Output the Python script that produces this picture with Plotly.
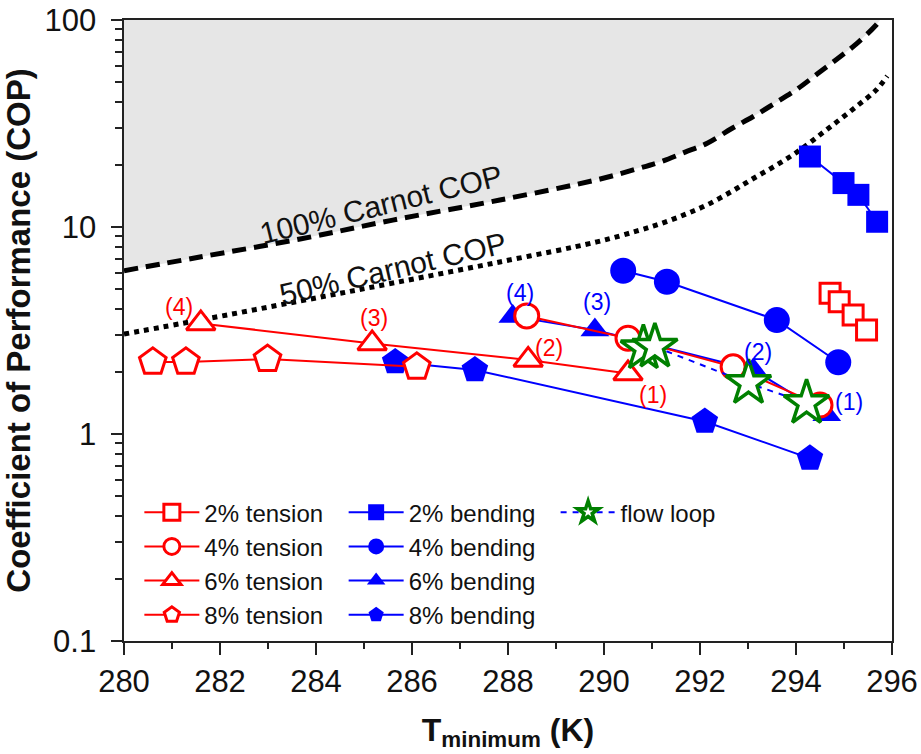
import math
import plotly.graph_objects as go

# ---------------- data ----------------
carnot100_T = [280.0, 281.58, 283.67, 285.6, 287.83, 289.85, 290.69, 291.19, 291.69, 292.15,
               292.67, 293.1, 293.56, 294.02, 294.44, 294.85, 295.27, 295.67, 295.75]
carnot100_cop = [6.15, 7.16, 8.75, 10.8, 13.5, 16.9, 19.1, 20.7, 23.0, 25.4,
                 30.0, 34.1, 39.6, 46.3, 54.8, 64.6, 77.1, 94.6, 100.0]

carnot50_T = [280.0, 281.58, 283.67, 285.6, 287.83, 289.85, 290.69, 291.19, 291.69, 292.15,
              292.67, 293.1, 293.56, 294.02, 294.44, 294.85, 295.27, 295.67, 295.9]
carnot50_cop = [3.04, 3.55, 4.39, 5.36, 6.78, 8.47, 9.57, 10.4, 11.5, 12.8,
                14.9, 17.1, 19.7, 23.0, 27.2, 32.2, 38.4, 45.9, 53.6]

t2_T = [294.71, 294.90, 295.19, 295.47]
t2_cop = [4.78, 4.36, 3.76, 3.18]
t4_T = [288.39, 290.5, 292.69, 294.5]
t4_cop = [3.72, 2.90, 2.11, 1.38]
t6_T = [281.6, 285.17, 288.42, 290.5]
t6_cop = [3.42, 2.74, 2.28, 1.96]
t8_T = [280.6, 281.29, 282.99, 286.1]
t8_cop = [2.23, 2.23, 2.30, 2.11]

b2_T = [294.29, 294.99, 295.30, 295.69]
b2_cop = [21.9, 16.3, 14.3, 10.6]
b4_T = [290.40, 291.31, 293.60, 294.88]
b4_cop = [6.15, 5.44, 3.55, 2.22]
b6_T = [288.1, 289.81, 293.11, 294.64]
b6_cop = [3.70, 3.18, 2.04, 1.24]
b8_T = [285.65, 287.31, 292.10, 294.29]
b8_cop = [2.23, 2.04, 1.15, 0.763]

flow_T = [290.82, 291.06, 293.01, 294.22]
flow_cop = [2.59, 2.64, 1.76, 1.41]

tension_names = ["2% tension", "4% tension", "6% tension", "8% tension"]
bending_names = ["2% bending", "4% bending", "6% bending", "8% bending"]

label_text = ["(4)", "(3)", "(2)", "(1)"]
red_label_T = [281.15, 285.21, 288.86, 291.03]
red_label_cop = [4.12, 3.62, 2.59, 1.54]
blue_label_T = [288.26, 289.85, 293.21, 295.11]
blue_label_cop = [4.78, 4.36, 2.50, 1.43]

x_ticks = [280, 282, 284, 286, 288, 290, 292, 294, 296]
y_ticks = [0.1, 1, 10, 100]
y_tick_text = ["0.1", "1", "10", "100"]

# ---------------- styles ----------------
FONT = "Liberation Sans, Arial, sans-serif"
RED = "#ff0000"
BLUE = "#0000ff"
GREEN = "#008000"
AXC = "#222222"
NBSP = "\u00a0"

fig = go.Figure()

# grey region above the Carnot limit
fig.add_trace(go.Scatter(
    x=carnot100_T + [carnot100_T[-1], carnot100_T[0]],
    y=carnot100_cop + [100, 100],
    fill="toself", fillcolor="#e6e6e6", mode="lines", line=dict(width=0),
    showlegend=False, hoverinfo="skip"))
fig.add_trace(go.Scatter(x=carnot100_T, y=carnot100_cop, mode="lines",
                         line=dict(color="black", width=5, dash="14px,8px", shape="spline"),
                         showlegend=False))
fig.add_trace(go.Scatter(x=carnot50_T, y=carnot50_cop, mode="lines",
                         line=dict(color="black", width=5, dash="5px,5px", shape="spline"),
                         showlegend=False))

# bending (filled blue)
b_data = [(b2_T, b2_cop, "square", 22), (b4_T, b4_cop, "circle", 26),
          (b6_T, b6_cop, "triangle-up", 25), (b8_T, b8_cop, "pentagon", 28)]
for (xs, ys, sym, sz), name in zip(b_data, bending_names):
    fig.add_trace(go.Scatter(x=xs, y=ys, mode="lines+markers", name=name,
                             line=dict(color=BLUE, width=2),
                             marker=dict(symbol=sym, size=sz, color=BLUE, line=dict(width=0)),
                             legend="legend2"))

# tension (open red)
t_data = [(t2_T, t2_cop, "square", 20), (t4_T, t4_cop, "circle", 24),
          (t6_T, t6_cop, "triangle-up", 25), (t8_T, t8_cop, "pentagon", 28)]
for (xs, ys, sym, sz), name in zip(t_data, tension_names):
    fig.add_trace(go.Scatter(x=xs, y=ys, mode="lines+markers", name=name,
                             line=dict(color=RED, width=2),
                             marker=dict(symbol=sym, size=sz, color="white",
                                         line=dict(color=RED, width=3)),
                             legend="legend"))

# flow loop
fig.add_trace(go.Scatter(x=flow_T, y=flow_cop, mode="lines+markers", name="flow loop",
                         line=dict(color=BLUE, width=2, dash="6px,6px"),
                         marker=dict(symbol="star", size=34, color="white",
                                     line=dict(color=GREEN, width=3.5)),
                         legend="legend3"))

annotations = []
for txt, xv, yv in zip(label_text, red_label_T, red_label_cop):
    annotations.append(dict(x=xv, y=math.log10(yv), text=txt, showarrow=False,
                            font=dict(family=FONT, size=23, color=RED)))
for txt, xv, yv in zip(label_text, blue_label_T, blue_label_cop):
    annotations.append(dict(x=xv, y=math.log10(yv), text=txt, showarrow=False,
                            font=dict(family=FONT, size=23, color=BLUE)))
annotations.append(dict(x=285.36, y=math.log10(12.8), text="100% Carnot COP", showarrow=False,
                        textangle=-13.8, font=dict(family=FONT, size=30, color="#111111")))
annotations.append(dict(x=285.61, y=math.log10(6.31), text="50% Carnot COP", showarrow=False,
                        textangle=-13.2, font=dict(family=FONT, size=30, color="#111111")))

legend_common = dict(font=dict(family=FONT, size=24, color="#111111"),
                     bgcolor="rgba(0,0,0,0)", yanchor="top", xanchor="left",
                     itemwidth=55, tracegroupgap=0, traceorder="normal")

fig.update_layout(
    width=921, height=754,
    margin=dict(l=124, r=29, t=20, b=113),
    plot_bgcolor="white", paper_bgcolor="white",
    font=dict(family=FONT, color="#111111"),
    annotations=annotations,
    legend=dict(x=0.02, y=0.243, **legend_common),
    legend2=dict(x=0.286, y=0.243, **legend_common),
    legend3=dict(x=0.562, y=0.243, **legend_common),
    xaxis=dict(range=[280, 296], tickvals=x_ticks, ticks="outside", ticklen=12, tickwidth=2,
               tickcolor=AXC, showline=True, linecolor=AXC, linewidth=2,
               mirror=True, showgrid=False, zeroline=False, automargin=False,
               tickfont=dict(family=FONT, size=31, color="#111111"),
               minor=dict(dtick=1, ticks="outside", ticklen=6, tickwidth=2, tickcolor=AXC),
               title=dict(text="<b>T<sub>minimum</sub> (K)</b>", standoff=20,
                          font=dict(family=FONT, size=32, color="#111111"))),
    yaxis=dict(type="log", range=[-1, 2], tickvals=y_ticks,
               ticktext=[t + NBSP for t in y_tick_text],
               ticks="outside", ticklen=11, tickwidth=2, tickcolor=AXC,
               showline=True, linecolor=AXC, linewidth=2, mirror=True,
               showgrid=False, zeroline=False, automargin=False,
               tickfont=dict(family=FONT, size=31, color="#111111"),
               minor=dict(dtick="D1", ticks="outside", ticklen=7, tickwidth=2, tickcolor=AXC),
               title=dict(text="<b>Coefficient of Performance (COP)</b>", standoff=4,
                          font=dict(family=FONT, size=33, color="#111111"))),
)

fig.write_html("out.html")
